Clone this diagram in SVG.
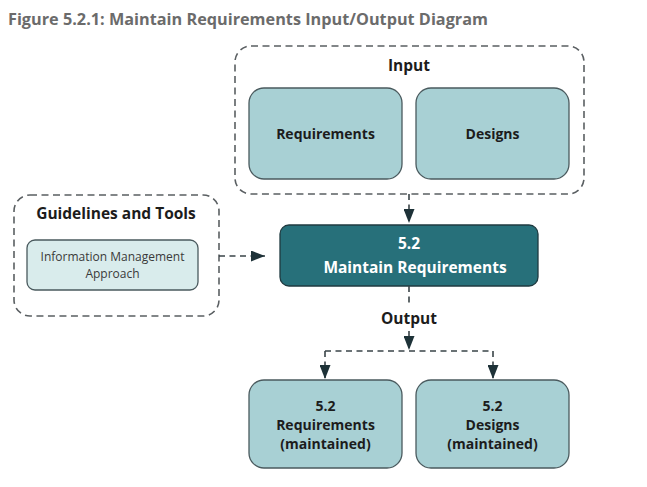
<svg xmlns="http://www.w3.org/2000/svg" width="647" height="487" viewBox="0 0 647 487">
<defs>
<style>
.t{font-family:"Open Sans","Liberation Sans",sans-serif;font-weight:bold;text-anchor:middle;fill:#1c1c1c}
.grp{fill:none;stroke:#5a5f62;stroke-width:1.6;stroke-dasharray:7,4.5}
.node{fill:#a8d0d4;stroke:#4a5a5e;stroke-width:1.3}
.conn{fill:none;stroke:#3a4448;stroke-width:1.6;stroke-dasharray:6,4.5}
</style>
<marker id="ah" viewBox="0 0 14 11" refX="14" refY="5.5" markerWidth="14" markerHeight="11" markerUnits="userSpaceOnUse" orient="auto">
<path d="M0,0 L14,5.5 L0,11 Z" fill="#1e3238"/>
</marker>
</defs>
<rect width="647" height="487" fill="#ffffff"/>
<text x="8" y="25" font-family="Open Sans,Liberation Sans,sans-serif" font-weight="bold" font-size="15.5" fill="#6b6b6b" textLength="480" lengthAdjust="spacingAndGlyphs">Figure 5.2.1: Maintain Requirements Input/Output Diagram</text>

<g id="input-group">
<rect class="grp" x="235" y="46" width="349" height="148" rx="16"/>
<text class="t" x="409" y="71" font-size="15.5">Input</text>
</g>
<g id="requirements">
<rect class="node" x="249" y="88" width="153" height="91" rx="15"/>
<text class="t" x="325.5" y="139" font-size="14">Requirements</text>
</g>
<g id="designs">
<rect class="node" x="416" y="88" width="153" height="91" rx="15"/>
<text class="t" x="492.5" y="139" font-size="14">Designs</text>
</g>

<g id="guidelines-group">
<rect class="grp" x="14" y="195" width="205" height="121" rx="16"/>
<text class="t" x="116" y="219" font-size="15.5">Guidelines and Tools</text>
</g>
<g id="info-mgmt">
<rect x="27" y="240" width="171" height="50" rx="8" fill="#d9ecec" stroke="#4a5a5e" stroke-width="1.3"/>
<text x="112.5" y="261" font-family="Open Sans,Liberation Sans,sans-serif" font-size="12" text-anchor="middle" fill="#3a3a3a">Information Management</text>
<text x="112.5" y="278" font-family="Open Sans,Liberation Sans,sans-serif" font-size="12" text-anchor="middle" fill="#3a3a3a">Approach</text>
</g>

<g id="maintain">
<rect x="280" y="225" width="258" height="61" rx="9" fill="#27707a" stroke="#1f3a40" stroke-width="1.3"/>
<text class="t" x="409" y="249" font-size="15.5" style="fill:#ffffff">5.2</text>
<text class="t" x="415" y="273" font-size="15.5" style="fill:#ffffff">Maintain Requirements</text>
</g>

<g id="output-label">
<text class="t" x="409" y="324" font-size="15.5">Output</text>
</g>

<g id="out-req">
<rect class="node" x="249" y="380" width="153" height="88" rx="15"/>
<text class="t" x="325.5" y="411" font-size="14">5.2</text>
<text class="t" x="325.5" y="430" font-size="14">Requirements</text>
<text class="t" x="325.5" y="449" font-size="14">(maintained)</text>
</g>
<g id="out-des">
<rect class="node" x="416" y="380" width="153" height="88" rx="15"/>
<text class="t" x="492.5" y="411" font-size="14">5.2</text>
<text class="t" x="492.5" y="430" font-size="14">Designs</text>
<text class="t" x="492.5" y="449" font-size="14">(maintained)</text>
</g>

<g id="connectors">
<path class="conn" d="M409,194 V223" marker-end="url(#ah)"/>
<path class="conn" d="M219,256 H265" marker-end="url(#ah)"/>
<path class="conn" d="M409,286 V306"/>
<path class="conn" d="M409,331 V350" marker-end="url(#ah)"/>
<path class="conn" d="M325,351 H493"/>
<path class="conn" d="M325,351 V379" marker-end="url(#ah)"/>
<path class="conn" d="M493,351 V379" marker-end="url(#ah)"/>
</g>
</svg>
